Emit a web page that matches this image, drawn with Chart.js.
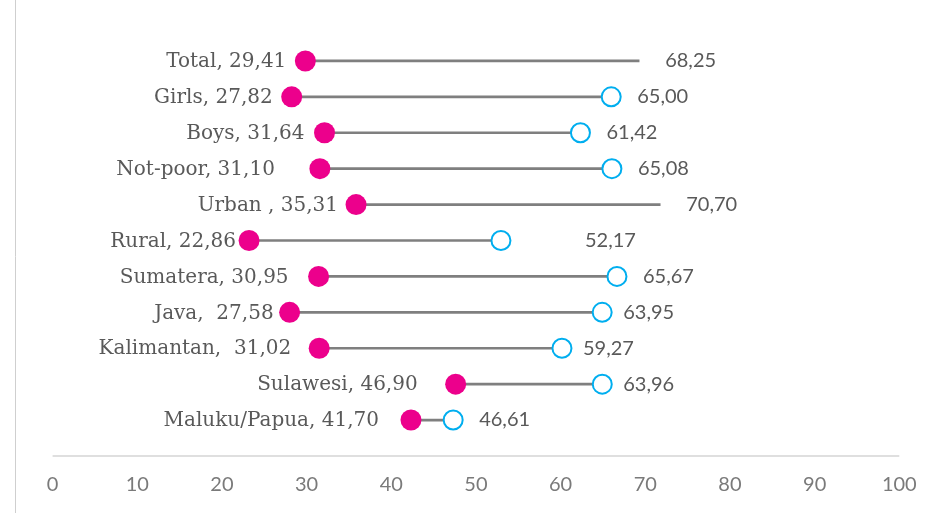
<!DOCTYPE html>
<html>
<head>
<meta charset="utf-8">
<script src="https://cdn.jsdelivr.net/npm/chart.js@4.4.1/dist/chart.umd.min.js"></script>
<style>
  html, body { margin: 0; padding: 0; background: #fff; }
  #wrap { position: relative; width: 937px; height: 513px; }
</style>
</head>
<body>
<div id="wrap"><canvas id="chart" width="937" height="513"></canvas></div>
<script>
/* ---------- data ---------- */
const categories = ["Total", "Girls", "Boys", "Not-poor", "Urban ", "Rural", "Sumatera", "Java", "Kalimantan", "Sulawesi", "Maluku/Papua"];
const lowValues  = [29.41, 27.82, 31.64, 31.10, 35.31, 22.86, 30.95, 27.58, 31.02, 46.90, 41.70];
const highValues = [68.25, 65.00, 61.42, 65.08, 70.70, 52.17, 65.67, 63.95, 59.27, 63.96, 46.61];
// rows where the upper end has no open circle
const noEndMarker = ["Total", "Urban "];
const tickValues = [0, 10, 20, 30, 40, 50, 60, 70, 80, 90, 100];

/* ---------- styles ---------- */
const PINK = "#ec008c";
const BLUE = "#00aeef";
const LINE = "#7f7f7f";
const TEXT = "#595959";
const TICK = "#7a7a7a";

const fmt = (v) => v.toFixed(2).replace(".", ",");

// hand-placed label gaps (px from the dot centre), default otherwise
const leftGap = {
  "Boys": 20, "Not-poor": 45, "Urban ": 18, "Rural": 13, "Sumatera": 30,
  "Java": 16, "Kalimantan": 28, "Sulawesi": 38, "Maluku/Papua": 32
};
const rightGap = { "Rural": 84, "Java": 21, "Kalimantan": 21, "Sulawesi": 21 };
const leftSep = { "Java": ",  ", "Kalimantan": ",  " };

/* ---------- label + axis decoration plugin ---------- */
const decor = {
  id: "decor",
  beforeDraw(chart) {
    const ctx = chart.ctx;
    ctx.save();
    ctx.strokeStyle = "#cfcfcf";
    ctx.lineWidth = 1;
    ctx.beginPath();
    ctx.moveTo(15.5, 0);
    ctx.lineTo(15.5, chart.height);
    ctx.stroke();

    // baseline under the rows, from tick 0 to tick 100
    const xs = chart.scales.x;
    ctx.strokeStyle = "#d4d4d4";
    ctx.lineWidth = 1.5;
    ctx.beginPath();
    ctx.moveTo(xs.getPixelForValue(tickValues[0]), 456);
    ctx.lineTo(xs.getPixelForValue(tickValues[tickValues.length - 1]), 456);
    ctx.stroke();
    ctx.restore();
  },
  afterDatasetsDraw(chart) {
    const ctx = chart.ctx;
    const xd = chart.scales.xd;
    const ys = chart.scales.y;
    ctx.save();
    ctx.textBaseline = "middle";
    categories.forEach((cat, i) => {
      const y = ys.getPixelForValue(i);
      const xl = xd.getPixelForValue(lowValues[i]);
      const xh = xd.getPixelForValue(highValues[i]);

      ctx.font = "20px 'DejaVu Serif'";
      ctx.fillStyle = TEXT;
      ctx.textAlign = "right";
      ctx.fillText(cat + (leftSep[cat] ?? ", ") + fmt(lowValues[i]), xl - (leftGap[cat] ?? 19), y + 1);

      ctx.font = "20px Lato";
      ctx.textAlign = "left";
      ctx.fillText(fmt(highValues[i]), xh + (rightGap[cat] ?? 26), y);
    });
    ctx.restore();
  }
};

/* ---------- chart ---------- */
new Chart(document.getElementById("chart"), {
  type: "bar",
  data: {
    labels: categories,
    datasets: [
      {
        type: "scatter",
        label: "low",
        order: 0,
        xAxisID: "xd",
        yAxisID: "y",
        data: categories.map((c, i) => ({ x: lowValues[i], y: c })),
        pointRadius: 10.5,
        pointBackgroundColor: PINK,
        pointBorderWidth: 0
      },
      {
        type: "scatter",
        label: "high",
        order: 1,
        xAxisID: "xd",
        yAxisID: "y",
        data: categories
          .map((c, i) => ({ x: highValues[i], y: c }))
          .filter(p => !noEndMarker.includes(p.y)),
        pointRadius: 9.5,
        pointBackgroundColor: "#fff",
        pointBorderColor: BLUE,
        pointBorderWidth: 2
      },
      {
        type: "bar",
        label: "range",
        order: 2,
        indexAxis: "y",
        xAxisID: "xd",
        yAxisID: "y",
        data: categories.map((c, i) => [lowValues[i], highValues[i]]),
        backgroundColor: LINE,
        barThickness: 2
      }
    ]
  },
  options: {
    responsive: false,
    animation: false,
    events: [],
    layout: { padding: { left: 52.6, right: 25, top: 43, bottom: 12 } },
    plugins: { legend: { display: false }, tooltip: { enabled: false } },
    scales: {
      y: {
        type: "category",
        display: false,
        offset: true
      },
      xd: {
        type: "linear",
        display: false,
        offset: false,
        min: 0,
        max: 100
      },
      // tick axis runs a touch past 100 so its labels sit slightly tighter than the data
      x: {
        type: "linear",
        position: "bottom",
        offset: false,
        min: 0,
        max: 101.5,
        afterBuildTicks(axis) {
          axis.ticks = tickValues.map(v => ({ value: v }));
        },
        grid: {
          display: true,
          drawOnChartArea: false,
          drawTicks: true,
          tickLength: 31,
          color: "rgba(0,0,0,0)"
        },
        border: { display: false },
        ticks: {
          padding: 4,
          color: TICK,
          font: { family: "Lato", size: 20 },
          maxRotation: 0,
          autoSkip: false
        }
      }
    }
  },
  plugins: [decor]
});
</script>
</body>
</html>
